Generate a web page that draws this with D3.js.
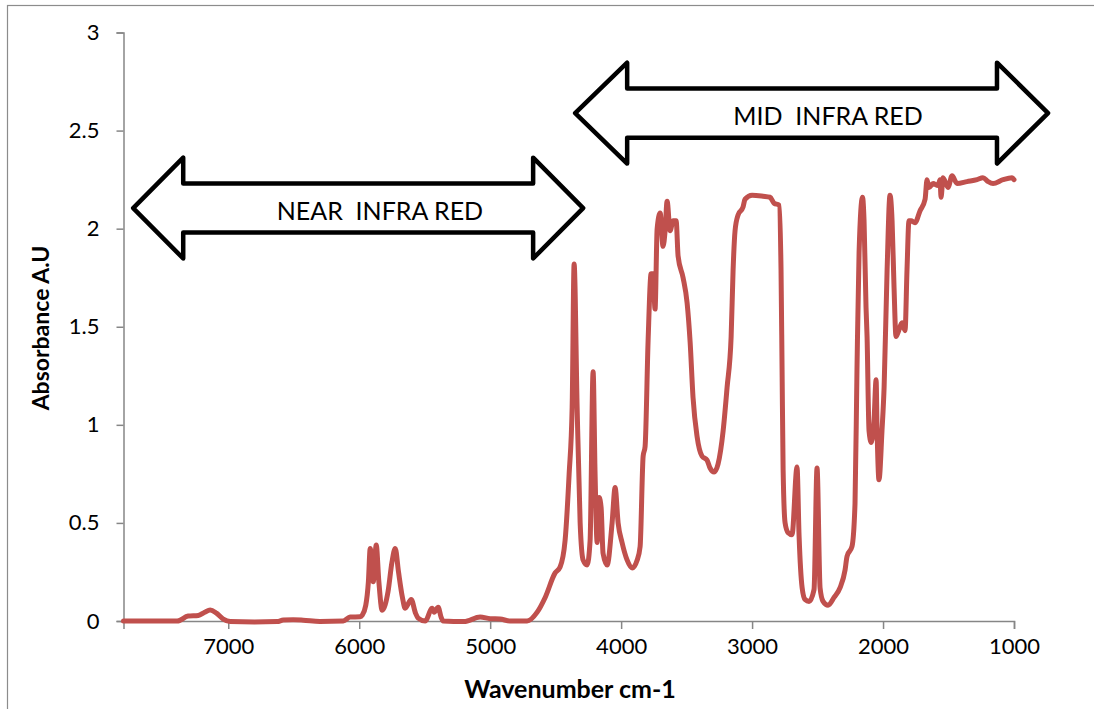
<!DOCTYPE html>
<html>
<head>
<meta charset="utf-8">
<script src="https://cdn.jsdelivr.net/npm/d3@7"></script>
<style>
  html, body { margin: 0; padding: 0; background: #fff; }
  svg { display: block; }
</style>
</head>
<body>
<svg id="chart" width="1094" height="709"></svg>
<script>
// ---- data ----
const wavenumber = [
  7800, 7600, 7390, 7306, 7229, 7180, 7138, 7090, 7038, 6985, 6800, 6626, 6580, 6504, 6428, 6300, 6122, 6069, 5993, 5977,
  5950, 5930, 5916, 5893, 5870, 5850, 5825, 5780, 5750, 5725, 5700, 5670, 5649, 5603, 5570, 5550, 5496, 5443, 5428, 5397,
  5375, 5359, 5200, 5077, 5000, 4924, 4850, 4718, 4641, 4580, 4504, 4466, 4428, 4397, 4374, 4359, 4336, 4313, 4290, 4260,
  4237, 4214, 4199, 4183, 4168, 4153, 4138, 4107, 4069, 4046, 4023, 3993, 3954, 3916, 3878, 3855, 3832, 3817, 3794, 3771,
  3756, 3741, 3725, 3702, 3680, 3664, 3649, 3626, 3603, 3580, 3565, 3527, 3496, 3473, 3451, 3420, 3382, 3344, 3321, 3290,
  3260, 3221, 3191, 3160, 3145, 3130, 3107, 3069, 3054, 3000, 2916, 2863, 2832, 2794, 2779, 2771, 2763, 2748, 2725, 2695,
  2657, 2641, 2618, 2596, 2565, 2527, 2504, 2481, 2458, 2420, 2374, 2328, 2290, 2275, 2237, 2214, 2199, 2183, 2157, 2145,
  2130, 2122, 2107, 2090, 2069, 2053, 2046, 2031, 2008, 1992, 1969, 1947, 1931, 1916, 1901, 1886, 1855, 1832, 1817, 1802,
  1786, 1756, 1718, 1679, 1664, 1649, 1618, 1580, 1565, 1557, 1542, 1504, 1473, 1435, 1359, 1282, 1237, 1198, 1160, 1084,
  1015, 1000
];
const absorbance = [
  0.00, 0.00, 0.00, 0.025, 0.028, 0.045, 0.056, 0.04, 0.01, -0.003, -0.005, -0.003, 0.005, 0.006, 0.004, -0.002, 0.00, 0.02, 0.022, 0.03,
  0.08, 0.20, 0.37, 0.20, 0.387, 0.20, 0.055, 0.15, 0.30, 0.37, 0.25, 0.12, 0.065, 0.11, 0.04, 0.015, 0.00, 0.065, 0.045, 0.07,
  0.02, 0.00, -0.003, 0.02, 0.012, 0.01, 0.00, 0.00, 0.045, 0.12, 0.245, 0.275, 0.41, 0.75, 1.09, 1.82, 1.09, 0.50, 0.31, 0.285,
  0.41, 1.27, 0.75, 0.40, 0.63, 0.58, 0.345, 0.285, 0.50, 0.68, 0.50, 0.40, 0.31, 0.27, 0.31, 0.38, 0.84, 0.89, 1.43, 1.77,
  1.77, 1.59, 2.00, 2.08, 1.91, 1.99, 2.14, 1.99, 2.04, 2.04, 1.86, 1.75, 1.62, 1.42, 1.14, 0.94, 0.84, 0.82, 0.78, 0.76,
  0.80, 0.97, 1.19, 1.45, 1.79, 1.99, 2.07, 2.11, 2.15, 2.17, 2.165, 2.16, 2.13, 2.12, 1.79, 1.28, 0.77, 0.50, 0.45, 0.44,
  0.785, 0.43, 0.17, 0.11, 0.10, 0.16, 0.78, 0.17, 0.10, 0.08, 0.12, 0.17, 0.26, 0.33, 0.38, 0.60, 1.28, 1.88, 2.16, 2.04,
  1.60, 1.45, 0.97, 0.91, 1.02, 1.23, 0.99, 0.72, 0.97, 1.19, 1.79, 2.17, 2.04, 1.70, 1.45, 1.47, 1.52, 1.48, 1.79, 2.04,
  2.04, 2.03, 2.09, 2.15, 2.25, 2.21, 2.23, 2.22, 2.25, 2.16, 2.26, 2.21, 2.27, 2.23, 2.24, 2.25, 2.26, 2.24, 2.23, 2.25,
  2.26, 2.25
];
const xTicks = [7000, 6000, 5000, 4000, 3000, 2000, 1000];
const yTicks = [0, 0.5, 1, 1.5, 2, 2.5, 3];
const xTitle = "Wavenumber cm-1";
const yTitle = "Absorbance A.U";

// region annotation arrows (in data units)
const regionLabels = ["NEAR  INFRA RED", "MID  INFRA RED"];
const regionTip = [[7726, 4290], [4351, 740]];      // left tip, right tip (cm-1)
const regionHeadBase = [[7344, 4672], [3954, 1130]]; // head bases (cm-1)
const regionLabelAt = [5842, 2420];                  // label centre (cm-1)
const regionMid = [2.105, 2.589];                    // arrow centre line (A.U)
const regionHalfHead = [0.257, 0.257];
const regionHalfShaft = [0.125, 0.125];

// ---- layout ----
const svg = d3.select("#chart");
const M = { left: 123.5, right: 1014, top: 32.5, bottom: 621 };
const x = d3.scaleLinear().domain([7800, 1000]).range([M.left, M.right]);
const y = d3.scaleLinear().domain([0, 3]).range([M.bottom, M.top]);
const font = "Lato, Carlito, 'Open Sans', sans-serif";
const axisColor = "#868686";

// outer chart border
svg.append("rect").attr("x", 7.5).attr("y", 5.5).attr("width", 1200).attr("height", 800)
  .attr("fill", "none").attr("stroke", "#8c8c8c").attr("stroke-width", 1.2);

// y axis
const yAxis = svg.append("g").attr("transform", `translate(${M.left},0)`)
  .call(d3.axisLeft(y).tickValues(yTicks).tickSize(7).tickPadding(17).tickFormat(d3.format("")));
// x axis
const xAxis = svg.append("g").attr("transform", `translate(0,${M.bottom})`)
  .call(d3.axisBottom(x).tickValues(xTicks).tickSize(8).tickPadding(9).tickFormat(d3.format("d")));

[yAxis, xAxis].forEach(g => {
  g.select(".domain").attr("stroke", axisColor).attr("stroke-width", 1.5);
  g.selectAll(".tick line").attr("stroke", axisColor).attr("stroke-width", 1.5);
  g.selectAll(".tick text").attr("fill", "#000").style("font-family", font).style("font-size", "22px");
});

// spectrum
const pts = wavenumber.map((w, i) => [w, absorbance[i]]);
const line = d3.line().x(d => x(d[0])).y(d => y(d[1])).curve(d3.curveMonotoneX);
svg.append("path").datum(pts).attr("d", line)
  .attr("fill", "none").attr("stroke", "#C0504D").attr("stroke-width", 5)
  .attr("stroke-linejoin", "round").attr("stroke-linecap", "round");

// arrows
regionLabels.forEach((lab, i) => {
  const xl = x(regionTip[i][0]), xr = x(regionTip[i][1]);
  const bl = x(regionHeadBase[i][0]), br = x(regionHeadBase[i][1]);
  const ym = y(regionMid[i]);
  const ht = y(regionMid[i] + regionHalfHead[i]), hb = y(regionMid[i] - regionHalfHead[i]);
  const st = y(regionMid[i] + regionHalfShaft[i]), sb = y(regionMid[i] - regionHalfShaft[i]);
  const poly = [[xl, ym], [bl, ht], [bl, st], [br, st], [br, ht], [xr, ym], [br, hb], [br, sb], [bl, sb], [bl, hb]];
  svg.append("path").attr("d", "M" + poly.map(p => p.join(",")).join("L") + "Z")
    .attr("fill", "#fff").attr("stroke", "#000").attr("stroke-width", 4.5).attr("stroke-linejoin", "round");
  svg.append("text").attr("x", x(regionLabelAt[i])).attr("y", ym + 12)
    .attr("text-anchor", "middle").style("white-space", "pre")
    .style("font-family", font).style("font-size", "25px").attr("fill", "#000").text(lab);
});

// axis titles
svg.append("text").attr("x", 570).attr("y", 698).attr("text-anchor", "middle")
  .style("font-family", font).style("font-weight", "bold").style("font-size", "25px").text(xTitle);
svg.append("text").attr("transform", "translate(49,328) rotate(-90)").attr("text-anchor", "middle")
  .style("font-family", font).style("font-weight", "bold").style("font-size", "23px").text(yTitle);
</script>
</body>
</html>
